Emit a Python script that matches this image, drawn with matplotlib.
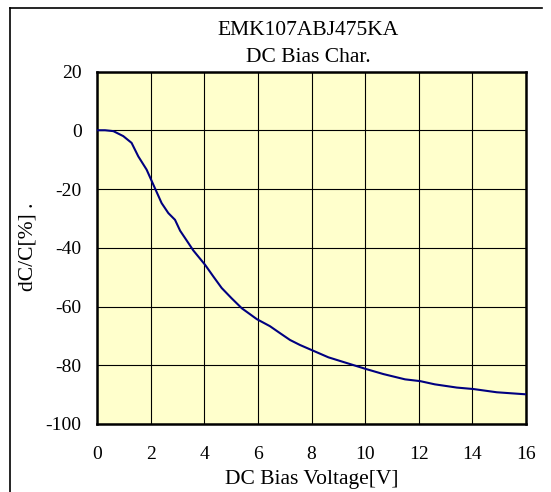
import matplotlib.pyplot as plt
from matplotlib.lines import Line2D
import numpy as np

# DC bias characteristic
volts = [0, 0.3, 0.61, 0.98, 1.29, 1.54, 1.85, 2.1, 2.41, 2.66, 2.91, 3.1, 3.35, 3.59,
         4.03, 4.34, 4.65, 5.02, 5.4, 5.96, 6.45, 6.83, 7.2, 7.57, 8.05, 8.63, 9.44,
         10.04, 10.68, 11.49, 12.05, 12.6, 13.42, 14.04, 14.91, 16]
dcc = [0, 0, -0.3, -2, -4.3, -8.9, -13.4, -18.5, -24.8, -28.2, -30.5, -34.2, -37.6, -40.9,
       -45.8, -49.8, -53.7, -57.2, -60.6, -64.3, -66.7, -69.1, -71.4, -73.1, -75, -77.3, -79.6,
       -81.3, -83, -84.8, -85.4, -86.5, -87.6, -88.1, -89.2, -89.9]
x_ticks = np.arange(0, 17, 2)
y_ticks = np.arange(-100, 21, 20)

plt.rcParams['font.family'] = ['Liberation Serif', 'DejaVu Serif']
plt.rcParams['axes.unicode_minus'] = False

fig = plt.figure(figsize=(5.51, 4.92), dpi=100)
W, H = 551, 492
ax = fig.add_axes([97 / W, 1 - 424 / H, (526 - 97) / W, (424 - 71.5) / H])
ax.set_facecolor('#FFFFCC')

ax.plot(volts, dcc, color='#000080', lw=1.5, zorder=3)

ax.set_xlim(0, 16)
ax.set_ylim(-100, 20)
ax.set_xticks(x_ticks)
ax.set_yticks(y_ticks)
ax.grid(True, color='black', lw=0.8)
ax.tick_params(length=0, labelsize=14)
ax.tick_params(axis='x', pad=16)
ax.tick_params(axis='y', pad=11)
for s in ax.spines.values():
    s.set_linewidth(1.8)
    s.set_color('black')

# axis labels and two-line title
fig.text(311.5 / W, 1 - 484 / H, 'DC Bias Voltage[V]', ha='center', va='baseline', fontsize=15.5)
fig.text(28 / W, 1 - 247 / H, 'dC/C[%] .', ha='center', va='center', rotation=90, fontsize=15.5)
fig.text(308 / W, 1 - 35 / H, 'EMK107ABJ475KA', ha='center', va='baseline', fontsize=15.5)
fig.text(308 / W, 1 - 62 / H, 'DC Bias Char.', ha='center', va='baseline', fontsize=15.5)

# outer frame: top and left edges only
fig.add_artist(Line2D([10 / W, 542 / W], [1 - 8 / H, 1 - 8 / H], color='black', lw=1.2,
                      transform=fig.transFigure))
fig.add_artist(Line2D([10 / W, 10 / W], [1 - 8 / H, 0], color='black', lw=1.2,
                      transform=fig.transFigure))

fig.savefig('out.png', dpi=100)
